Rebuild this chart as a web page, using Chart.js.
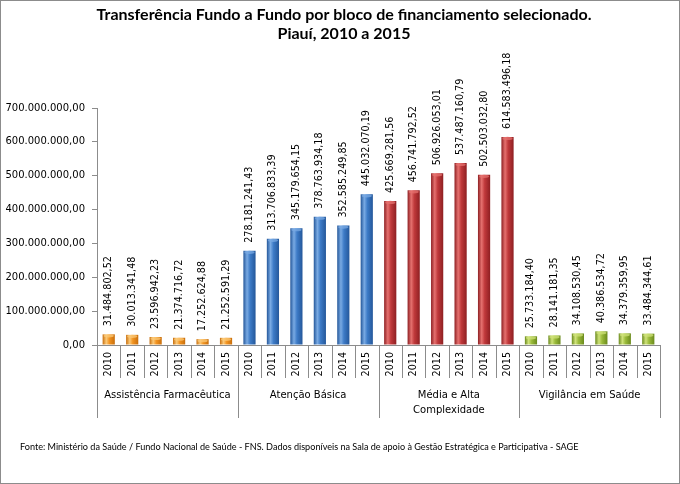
<!DOCTYPE html>
<html>
<head>
<meta charset="utf-8">
<script src="https://cdn.jsdelivr.net/npm/chart.js@4.4.1/dist/chart.umd.min.js"></script>
<style>
  html, body { margin: 0; padding: 0; background: #fff; }
  #wrap { position: relative; width: 680px; height: 484px; }
</style>
</head>
<body>
<div id="wrap"><canvas id="c" width="680" height="484"></canvas></div>
<script>
const titleLines = ['Transferência Fundo a Fundo por bloco de financiamento selecionado.', 'Piauí, 2010 a 2015'];
const sourceText = 'Fonte: Ministério da Saúde / Fundo Nacional de Saúde - FNS. Dados disponíveis na Sala de apoio à Gestão Estratégica e Participativa - SAGE';
const groups = [['Assistência Farmacêutica'], ['Atenção Básica'], ['Média e Alta', 'Complexidade'], ['Vigilância em Saúde']];
const years = ['2010', '2011', '2012', '2013', '2014', '2015'];
const assistenciaFarmaceutica = [31484802.52, 30013341.48, 23596942.23, 21374716.72, 17252624.88, 21252591.29];
const atencaoBasica = [278181241.43, 313706833.39, 345179654.15, 378763934.18, 352585249.85, 445032070.19];
const mediaAltaComplexidade = [425669281.56, 456741792.52, 506926053.01, 537487160.79, 502503032.80, 614583496.18];
const vigilanciaSaude = [25733184.40, 28141181.35, 34108530.45, 40386534.72, 34379359.95, 33484344.61];
const yMax = 700000000;
const yStep = 100000000;

const groupColors = [
  { dark: '#c86e0c', base: '#f29421', light: '#fbc978' },
  { dark: '#24579a', base: '#3d7bc7', light: '#79aae3' },
  { dark: '#8e1f22', base: '#c0393b', light: '#e5716f' },
  { dark: '#6a8a1c', base: '#9bbb3b', light: '#cfe27a' }
];

const labels = [];
groups.forEach(() => years.forEach(y => labels.push(y)));
const values = [].concat(assistenciaFarmaceutica, atencaoBasica, mediaAltaComplexidade, vigilanciaSaude);
const perGroup = years.length;
const BAR_PCT = 0.52;

function fmt(v) {
  const parts = v.toFixed(2).split('.');
  return parts[0].replace(/\B(?=(\d{3})+(?!\d))/g, '.') + ',' + parts[1];
}

function barFill(ctx) {
  const chart = ctx.chart;
  const g = groupColors[Math.floor(ctx.dataIndex / perGroup)];
  const xs = chart.scales.x;
  if (!xs || ctx.dataIndex === undefined) return g.base;
  const cx = xs.getPixelForValue(ctx.dataIndex);
  const w = (xs.width / labels.length) * BAR_PCT;
  if (!isFinite(cx) || !isFinite(w) || w <= 0) return g.base;
  const grad = chart.ctx.createLinearGradient(cx - w / 2, 0, cx + w / 2, 0);
  grad.addColorStop(0, g.dark);
  grad.addColorStop(0.3, g.light);
  grad.addColorStop(0.55, g.base);
  grad.addColorStop(1, g.dark);
  return grad;
}

const decorPlugin = {
  id: 'decor',
  afterDraw(chart) {
    const c = chart.ctx;
    const area = chart.chartArea;
    c.save();
    // outer border
    c.strokeStyle = '#8c8c8c';
    c.lineWidth = 1;
    c.strokeRect(0.5, 0.5, chart.width - 1, chart.height - 1);

    // title
    c.fillStyle = '#000';
    c.textAlign = 'center';
    c.textBaseline = 'middle';
    c.font = 'bold 16px Lato';
    c.fillText(titleLines[0], 344, 15);
    c.fillText(titleLines[1], 344, 34);

    // category separators
    const n = labels.length;
    const cw = (area.right - area.left) / n;
    c.strokeStyle = '#8c8c8c';
    c.beginPath();
    for (let i = 0; i <= n; i++) {
      const x = Math.round(area.left + i * cw) + 0.5;
      const isGroup = i % perGroup === 0;
      c.moveTo(x, area.bottom);
      c.lineTo(x, isGroup ? 418 : 378);
    }
    c.stroke();

    // group labels
    c.fillStyle = '#000';
    c.font = '10px "DejaVu Sans"';
    groups.forEach((lines, gi) => {
      const cx = area.left + (gi * perGroup + perGroup / 2) * cw;
      lines.forEach((t, li) => c.fillText(t, cx, 395 + li * 15));
    });

    // source
    c.textAlign = 'left';
    c.font = '9.1px Lato';
    c.fillText(sourceText, 20, 447);

    // data labels
    const meta = chart.getDatasetMeta(0);
    c.font = '9.6px "DejaVu Sans"';
    c.textAlign = 'left';
    c.textBaseline = 'middle';
    meta.data.forEach((el, i) => {
      c.save();
      c.translate(el.x, el.y - 8);
      c.rotate(-Math.PI / 2);
      c.fillText(fmt(values[i]), 0, 0);
      c.restore();
    });
    c.restore();
  },
  afterDatasetsDraw(chart) {
    // light top cap on each bar
    const c = chart.ctx;
    const meta = chart.getDatasetMeta(0);
    c.save();
    meta.data.forEach((el, i) => {
      const g = groupColors[Math.floor(i / perGroup)];
      const w = el.width;
      c.fillStyle = g.light;
      c.globalAlpha = 0.75;
      c.beginPath();
      c.ellipse(el.x, el.y + 1.5, w / 2 - 1, 1.6, 0, 0, Math.PI * 2);
      c.fill();
    });
    c.restore();
  }
};

new Chart(document.getElementById('c'), {
  type: 'bar',
  data: {
    labels: labels,
    datasets: [{
      data: values,
      backgroundColor: barFill,
      borderWidth: 0,
      barPercentage: BAR_PCT,
      categoryPercentage: 1
    }]
  },
  options: {
    responsive: false,
    animation: false,
    layout: { padding: { top: 108, right: 20, left: 0, bottom: 0 } },
    plugins: { legend: { display: false }, tooltip: { enabled: false }, title: { display: false } },
    scales: {
      x: {
        grid: { display: false, drawTicks: false },
        border: { display: true, color: '#8c8c8c' },
        ticks: {
          autoSkip: false,
          minRotation: 90,
          maxRotation: 90,
          padding: 7,
          color: '#000',
          font: { family: 'DejaVu Sans', size: 9.6 }
        },
        afterFit(scale) { scale.height = 139; }
      },
      y: {
        min: 0,
        max: yMax,
        grid: { drawOnChartArea: false, drawTicks: true, tickLength: 5, color: '#8c8c8c' },
        border: { display: true, color: '#8c8c8c' },
        ticks: {
          stepSize: yStep,
          padding: 7,
          color: '#000',
          font: { family: 'DejaVu Sans', size: 10 },
          callback: v => fmt(v)
        },
        afterFit(scale) { scale.width = 97; }
      }
    }
  },
  plugins: [decorPlugin]
});
</script>
</body>
</html>
